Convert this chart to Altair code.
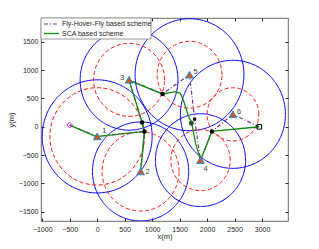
import numpy as np
import pandas as pd
import altair as alt

# ---------------- data ----------------
user_id = ["1", "2", "3", "4", "5", "6"]
user_x = [0, 790, 580, 1880, 1680, 2470]
user_y = [-170, -790, 830, -590, 920, 220]
blue_r = [1000, 875, 890, 820, 990, 955]
red_r = [860, 700, 645, 540, 590, 470]

start_x, start_y = [-500], [30]
end_x, end_y = [2950], [0]

hover_x = [1190, 817, 860, 2087]
hover_y = [580, 76, -83, -83]
open_x, open_y = [1713], [65]
cross_x, cross_y = [1773], [136]

fhf_x = [-500, 0, 860, 790, 860, 817, 580, 1190, 1680, 1773, 1880, 2087, 2470, 2950]
fhf_y = [30, -170, -83, -790, -83, 76, 830, 580, 920, 136, -590, -83, 220, 0]

sca_x = [-500, -20, 860, 830, 790, 830, 860, 817, 700, 580, 1190, 1420, 1515,
         1575, 1665, 1720, 1790, 1880, 2087, 2950]
sca_y = [30, -175, -83, -420, -780, -420, -83, 76, 450, 820, 580, 620, 590,
         450, 180, 65, -290, -590, -83, 0]

x_ticks = [-1000, -500, 0, 500, 1000, 1500, 2000, 2500, 3000]
y_ticks = [-1500, -1000, -500, 0, 500, 1000, 1500]
x_dom = [-1022, 3472]
y_dom = [-1666, 1923]

FONT = "Liberation Sans"
BLUE = "#0000FF"
RED = "#FF0000"
PURPLE = "#7E2F8E"
GREEN = "#108A10"
TXT = "#262626"

# ---------------- build tables ----------------
theta = np.linspace(0, 2 * np.pi, 241)
rows = []
for i in range(len(user_x)):
    for k, t in enumerate(theta):
        rows.append({"id": i, "k": k,
                     "bx": user_x[i] + blue_r[i] * np.cos(t),
                     "by": user_y[i] + blue_r[i] * np.sin(t),
                     "rx": user_x[i] + red_r[i] * np.cos(t),
                     "ry": user_y[i] + red_r[i] * np.sin(t)})
circ = pd.DataFrame(rows)

users = pd.DataFrame({"id": user_id, "x": user_x, "y": user_y})
fhf = pd.DataFrame({"x": fhf_x, "y": fhf_y, "k": range(len(fhf_x))})
sca = pd.DataFrame({"x": sca_x, "y": sca_y, "k": range(len(sca_x))})
hov = pd.DataFrame({"x": hover_x, "y": hover_y})

xs = alt.Scale(domain=x_dom, nice=False, zero=False)
ys = alt.Scale(domain=y_dom, nice=False, zero=False)

def X(field, axis=None):
    return alt.X(field, type="quantitative", scale=xs, axis=axis)

def Y(field, axis=None):
    return alt.Y(field, type="quantitative", scale=ys, axis=axis)

ax_common = dict(grid=False, domain=False, ticks=True, tickSize=3, offset=-3,
                 tickColor=TXT, labelColor=TXT, labelFont=FONT, labelFontSize=7,
                 titleFont=FONT, titleFontSize=7.5, titleFontWeight="normal",
                 titleColor=TXT, format="d")
x_axis = alt.Axis(values=x_ticks, title="x(m)", labelPadding=4, titlePadding=0,
                  labelFlush=False, **ax_common)
y_axis = alt.Axis(values=y_ticks, title="y(m)", labelPadding=3, titlePadding=3,
                  **ax_common)

blue = alt.Chart(circ).mark_line(color=BLUE, strokeWidth=1, clip=True).encode(
    x=X("bx", x_axis), y=Y("by", y_axis), detail="id:N", order="k:Q")
red = alt.Chart(circ).mark_line(color=RED, strokeWidth=1, strokeDash=[4, 2.5],
                                clip=True).encode(
    x=X("rx"), y=Y("ry"), detail="id:N", order="k:Q")

fhf_line = alt.Chart(fhf).mark_line(color=PURPLE, strokeWidth=1.2,
                                    strokeDash=[4, 2, 1, 2]).encode(
    x=X("x"), y=Y("y"), order="k:Q")
sca_line = alt.Chart(sca).mark_line(color=GREEN, strokeWidth=1.3,
                                    interpolate="linear").encode(
    x=X("x"), y=Y("y"), order="k:Q")

hov_pts = alt.Chart(hov).mark_point(filled=True, color="black", size=20,
                                    opacity=1).encode(x=X("x"), y=Y("y"))
open_pt = alt.Chart(pd.DataFrame({"x": open_x, "y": open_y})).mark_point(
    filled=True, fill="#333333", stroke="#1a6e1a", strokeWidth=1, size=18,
    opacity=1).encode(x=X("x"), y=Y("y"))
cross_pt = alt.Chart(pd.DataFrame({"x": cross_x, "y": cross_y})).mark_point(
    shape="cross", filled=True, color="black", size=14, angle=45,
    opacity=1).encode(x=X("x"), y=Y("y"))

tri = alt.Chart(users).mark_point(shape="triangle-up", filled=True,
                                  fill="#D95319", stroke="#1F8FD0",
                                  strokeWidth=1, size=58, opacity=1).encode(
    x=X("x"), y=Y("y"))

offsets = {"1": (5, -5, "left"), "2": (5, 1, "left"), "3": (-5, -2, "right"),
           "4": (3, 9, "left"), "5": (4, -3, "left"), "6": (4, -2, "left")}
label_layers = []
for uid, (dx, dy, al) in offsets.items():
    label_layers.append(
        alt.Chart(users[users["id"] == uid]).mark_text(
            dx=dx, dy=dy, align=al, baseline="middle", font=FONT,
            fontSize=7.5, color="#404040").encode(
            x=X("x"), y=Y("y"), text="id:N"))

start_pt = alt.Chart(pd.DataFrame({"x": start_x, "y": start_y})).mark_point(
    shape="diamond", color="#FF00FF", strokeWidth=1, size=32, opacity=1).encode(
    x=X("x"), y=Y("y"))
end_pt = alt.Chart(pd.DataFrame({"x": end_x, "y": end_y})).mark_point(
    shape="square", color="black", strokeWidth=1, size=22, opacity=1).encode(
    x=X("x"), y=Y("y"))

# legend (inside, top-left)
leg_df = pd.DataFrame({"t": ["Fly-Hover-Fly based scheme", "SCA based scheme"]})
leg_box = alt.Chart(leg_df.head(1)).mark_rect(fill="white", stroke="#7f7f7f",
                                              strokeWidth=0.8).encode(
    x=alt.value(0), x2=alt.value(110), y=alt.value(0), y2=alt.value(21))
leg_l1 = alt.Chart(leg_df.head(1)).mark_rule(color=PURPLE, strokeWidth=1.2,
                                             strokeDash=[4, 2, 1, 2]).encode(
    x=alt.value(3), x2=alt.value(18), y=alt.value(6))
leg_l2 = alt.Chart(leg_df.head(1)).mark_rule(color=GREEN, strokeWidth=1.3).encode(
    x=alt.value(3), x2=alt.value(18), y=alt.value(15.5))
leg_t1 = alt.Chart(leg_df.head(1)).mark_text(align="left", baseline="middle",
                                             font=FONT, fontSize=7,
                                             color=TXT).encode(
    x=alt.value(21), y=alt.value(6), text="t:N")
leg_t2 = alt.Chart(leg_df.tail(1)).mark_text(align="left", baseline="middle",
                                             font=FONT, fontSize=7,
                                             color=TXT).encode(
    x=alt.value(21), y=alt.value(15.5), text="t:N")

# mirrored ticks on top / right
ax_mirror = dict(grid=False, domain=False, labels=False, title=None, ticks=True,
                 tickSize=3, offset=-3, tickColor=TXT)
mirror = alt.Chart(pd.DataFrame({"x": end_x, "y": end_y})).mark_point(
    opacity=0).encode(
    x=X("x", alt.Axis(orient="top", values=x_ticks + [3500], **ax_mirror)),
    y=Y("y", alt.Axis(orient="right", values=y_ticks, **ax_mirror)))

chart = alt.layer(
    blue, red, fhf_line, sca_line, hov_pts, open_pt, cross_pt, tri,
    *label_layers, start_pt, end_pt,
    leg_box, leg_l1, leg_l2, leg_t1, leg_t2, mirror
).resolve_axis(x="independent", y="independent").properties(
    width=247, height=203,
    autosize=alt.AutoSizeParams(type="none"),
    padding={"left": 33, "top": 10, "right": 23, "bottom": 20},
    background="white"
).configure_view(stroke="#444444", strokeWidth=0.8)

chart.save("out.html", embed_options={"renderer": "svg", "actions": False})
